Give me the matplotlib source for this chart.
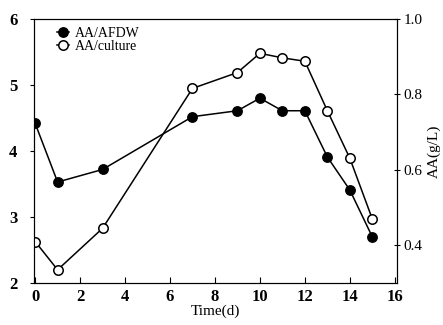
import matplotlib.pyplot as plt
from matplotlib.ticker import MultipleLocator

plt.rcParams['font.family'] = ['Liberation Serif', 'DejaVu Serif']

# -----------------------------
# Data
# -----------------------------
days = [0, 1, 3, 7, 9, 10, 11, 12, 13, 14, 15]
aa_afdw = [4.42, 3.53, 3.72, 4.52, 4.61, 4.80, 4.61, 4.61, 3.91, 3.41, 2.70]      # left axis
aa_culture = [0.41, 0.335, 0.445, 0.816, 0.858, 0.909, 0.897, 0.888, 0.757, 0.631, 0.47]  # g/L

# -----------------------------
# Figure
# -----------------------------
fig = plt.figure(figsize=(4.43, 3.25), dpi=100)
ax = fig.add_axes([34/443, 1 - 283/325, (397 - 34)/443, (283 - 19)/325])
ax2 = ax.twinx()

l1, = ax.plot(days, aa_afdw, 'k-', marker='o', markersize=6.8, markerfacecolor='k',
              lw=1.1, label='AA/AFDW')
l2, = ax2.plot(days, aa_culture, 'k-', marker='o', markersize=6.8, markerfacecolor='white',
               markeredgewidth=1.1, lw=1.1, label='AA/culture')

ax.set_xlim(-0.05, 16.1)
ax.set_ylim(2, 6)
ax2.set_ylim(0.3, 1.0)

ax.xaxis.set_major_locator(MultipleLocator(2))
ax.yaxis.set_major_locator(MultipleLocator(1))
ax2.set_yticks([0.4, 0.6, 0.8, 1.0])

ax.tick_params(axis='x', direction='in', length=4, labelsize=12, pad=4)
ax.tick_params(axis='y', direction='out', length=3, labelsize=12, pad=9)
ax2.tick_params(axis='y', direction='inout', length=5, labelsize=11, pad=2)
for lab in ax.get_xticklabels() + ax.get_yticklabels():
    lab.set_fontweight('bold')

ax.set_xlabel('Time(d)', fontsize=11, labelpad=0)
ax2.set_ylabel('AA(g/L)', fontsize=11, labelpad=4)

ax.legend([l1, l2], ['AA/AFDW', 'AA/culture'], loc='upper left', frameon=False,
          fontsize=10, handlelength=0.9, handletextpad=0.4, labelspacing=0.0,
          borderaxespad=0.2, bbox_to_anchor=(0.04, 1.0))

fig.savefig('out.png', dpi=100)
